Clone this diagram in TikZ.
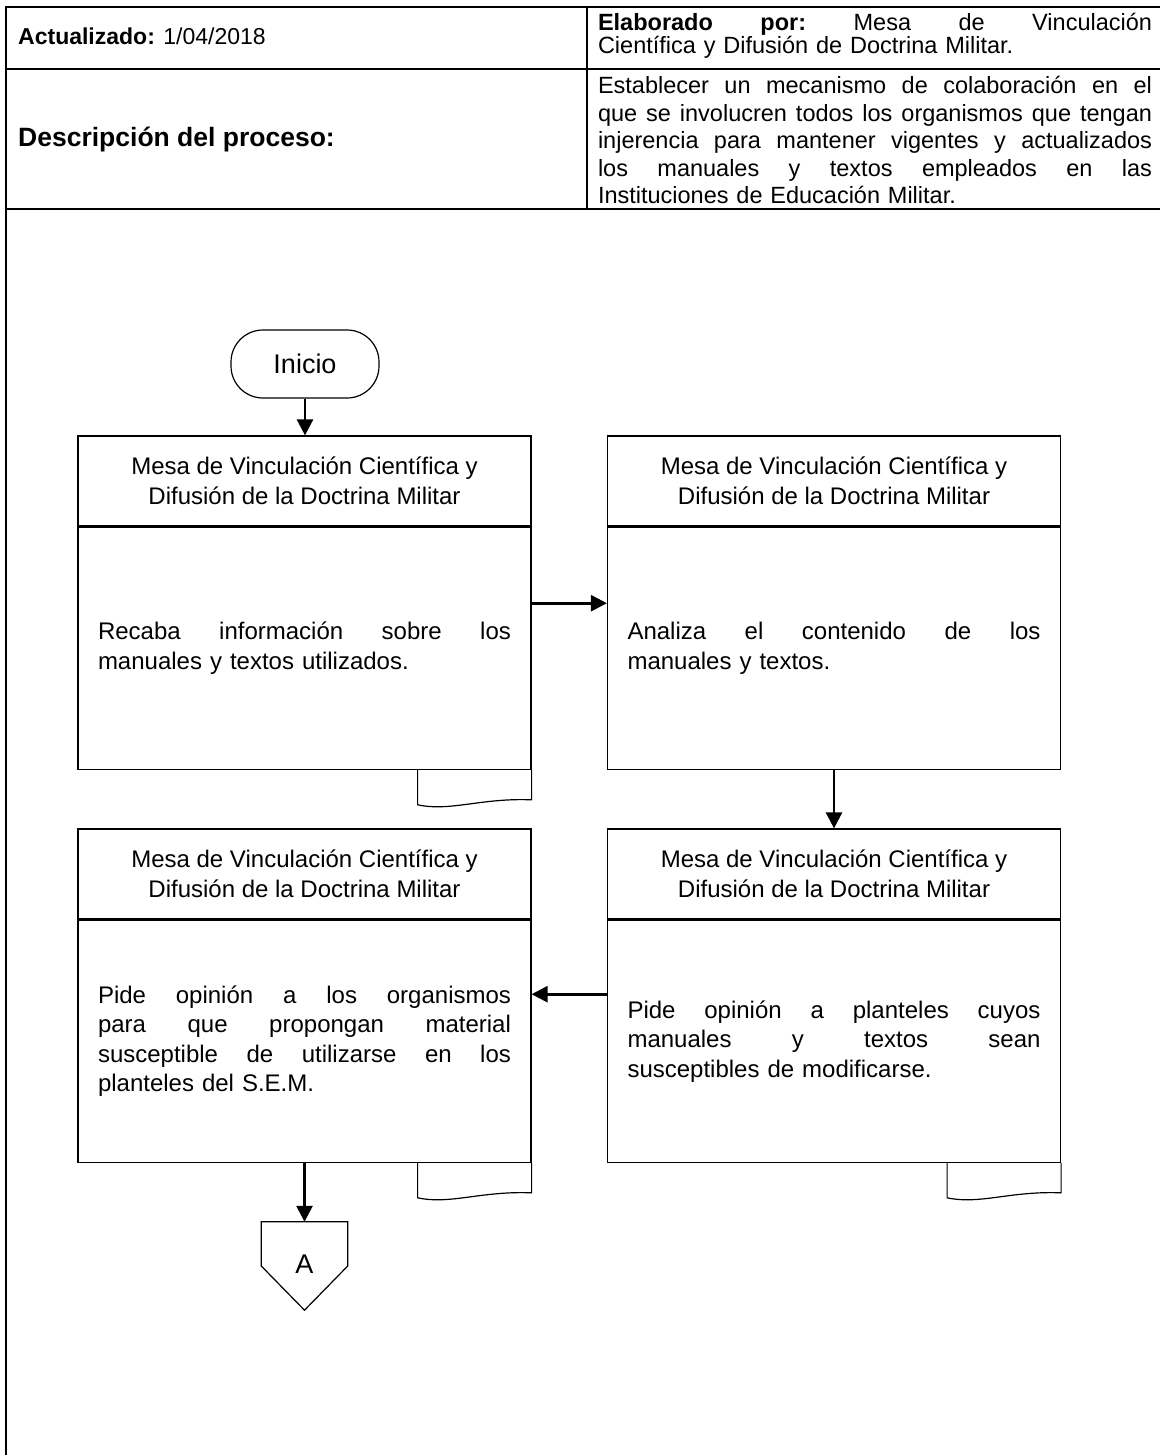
\documentclass[tikz,border=0pt]{standalone}
\usepackage{fontspec}
\setmainfont{Liberation Sans}
\usetikzlibrary{arrows.meta,calc}
\newcommand\JL[2]{\leavevmode\hbox to #1{\spaceskip=0.278em plus 1fil\relax\xspaceskip=0.278em plus 1fil\relax #2}}
\newcommand\docsh[1]{\draw[bl] ($(#1.south east)+(-114,0)$) -- ($(#1.south east)+(-114,35)$) .. controls ($(#1.south east)+(-81,42)$) and ($(#1.south east)+(-51,28)$) .. ($(#1.south east)+(0,30)$) -- (#1.south east);}
\begin{document}
\begin{tikzpicture}[x=1pt,y=-1pt,
  tab/.style={line width=1.1pt},
  bl/.style={draw, line width=1.2pt},
  hdr/.style={bl, minimum width=453pt, minimum height=90pt, inner sep=0pt, align=center, font=\fontsize{24}{30}\selectfont},
  bod/.style={bl, text width=413pt, inner xsep=20pt, inner ysep=0pt, minimum height=242pt, align=left, font=\fontsize{24}{29.5}\selectfont},
  arr/.style={line width=2.6pt, -{Triangle[length=16pt,width=16pt]}},
  ttxt/.style={inner sep=0pt, font=\fontsize{23.5}{23.5}\selectfont},
]
\fill[white] (0,0) rectangle (1159,1455);
\useasboundingbox (0,0) rectangle (1159,1455);
% table
\draw[tab] (6,1460) -- (6,7) -- (1170,7);
\draw[tab] (6,69) -- (1170,69);
\draw[tab] (6,209) -- (1170,209);
\draw[tab] (587,7) -- (587,209);
\node[ttxt, anchor=west, font=\fontsize{23}{23}\selectfont] (act) at (18,36) {\textbf{Actualizado:} 1/04/2018};
\node[ttxt, anchor=west, font=\fontsize{26.5}{26.5}\selectfont] (desc) at (18,140) {\textbf{Descripción del proceso:}};
\node[ttxt, text width=554pt, align=left, font=\fontsize{23.5}{23}\selectfont] (elab) at (875,36)
  {\JL{554pt}{\textbf{Elaborado por:} Mesa de Vinculación}\\Científica y Difusión de Doctrina Militar.};
\node[ttxt, text width=554pt, align=left, font=\fontsize{23.5}{27.5}\selectfont] (descr) at (875,140)
  {\JL{554pt}{Establecer un mecanismo de colaboración en el}\\
   \JL{554pt}{que se involucren todos los organismos que tengan}\\
   \JL{554pt}{injerencia para mantener vigentes y actualizados}\\
   \JL{554pt}{los manuales y textos empleados en las}\\
   Instituciones de Educación Militar.};
% start
\node[bl, rounded corners=32pt, minimum width=148pt, minimum height=68pt, font=\fontsize{27}{30}\selectfont] (ini) at (305,364) {Inicio};
% boxes
\node[hdr] (b1h) at (304.5,481) {Mesa de Vinculación Científica y\\Difusión de la Doctrina Militar};
\node[bod, anchor=north] (b1) at (b1h.south) {\JL{413pt}{Recaba información sobre los}\\manuales y textos utilizados.};
\node[hdr] (b2h) at (834,481) {Mesa de Vinculación Científica y\\Difusión de la Doctrina Militar};
\node[bod, anchor=north] (b2) at (b2h.south) {\JL{413pt}{Analiza el contenido de los}\\manuales y textos.};
\node[hdr] (b3h) at (304.5,874) {Mesa de Vinculación Científica y\\Difusión de la Doctrina Militar};
\node[bod, anchor=north] (b3) at (b3h.south) {\JL{413pt}{Pide opinión a los organismos}\\\JL{413pt}{para que propongan material}\\\JL{413pt}{susceptible de utilizarse en los}\\planteles del S.E.M.};
\node[hdr] (b4h) at (834,874) {Mesa de Vinculación Científica y\\Difusión de la Doctrina Militar};
\node[bod, anchor=north] (b4) at (b4h.south) {\JL{413pt}{Pide opinión a planteles cuyos}\\\JL{413pt}{manuales y textos sean}\\susceptibles de modificarse.};
\docsh{b1}
\docsh{b3}
\docsh{b4}
% connector A
\node[minimum width=86pt, minimum height=88pt, inner sep=0pt, font=\fontsize{27}{30}\selectfont] (conA) at (304.5,1264) {A};
\draw[bl] ([yshift=-2pt]conA.north west) -- ([yshift=-2pt]conA.north east) -- ([yshift=-2pt]conA.east) -- ([yshift=-2pt]conA.south) -- ([yshift=-2pt]conA.west) -- cycle;
% arrows
\draw[arr] (ini.south) -- (b1h.north -| ini.south);
\draw[arr] ($(b1.east)+(0,-45)$) -- ($(b2.west)+(0,-45)$);
\draw[arr] (b2.south) -- (b4h.north);
\draw[arr] ($(b4.west)+(0,-47)$) -- ($(b3.east)+(0,-47)$);
\draw[arr] (b3.south) -- ([yshift=-2pt]conA.north);
\end{tikzpicture}
\end{document}
